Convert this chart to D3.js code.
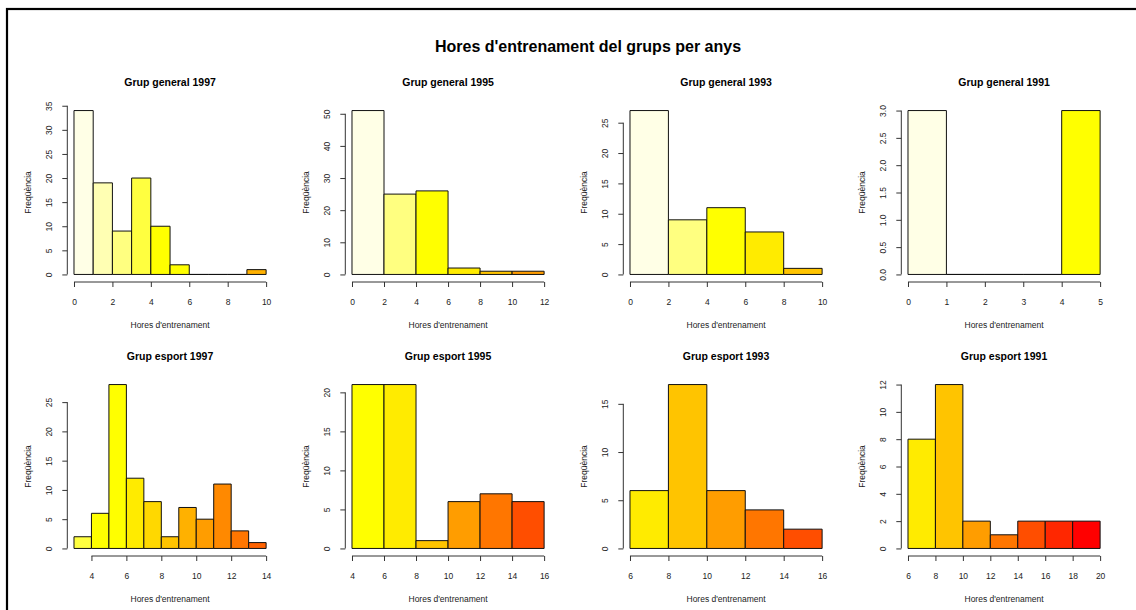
<!DOCTYPE html>
<html>
<head>
<meta charset="utf-8">
<script src="https://cdn.jsdelivr.net/npm/d3@7"></script>
<style>
  body { margin: 0; background: #fff; }
  svg { display: block; font-family: "Liberation Sans", Arial, sans-serif; }
  .tick text { fill: #222; }
</style>
</head>
<body>
<div id="chart"></div>
<script>
// Panel data (R-style histograms)
const mainTitle = "Hores d'entrenament del grups per anys";
const panelTitles = [
  "Grup general 1997", "Grup general 1995", "Grup general 1993", "Grup general 1991",
  "Grup esport 1997", "Grup esport 1995", "Grup esport 1993", "Grup esport 1991"
];
const binStarts = [0, 0, 0, 0, 3, 4, 6, 6];
const binWidths = [1, 2, 2, 1, 1, 2, 2, 2];
const binCounts = [
  [34, 19, 9, 20, 10, 2, 0, 0, 0, 1],
  [51, 25, 26, 2, 1, 1],
  [27, 9, 11, 7, 1],
  [3, 0, 0, 0, 3],
  [2, 6, 28, 12, 8, 2, 7, 5, 11, 3, 1],
  [21, 21, 1, 6, 7, 6],
  [6, 17, 6, 4, 2],
  [8, 12, 2, 1, 2, 2, 2]
];
const xTickValues = [
  [0, 2, 4, 6, 8, 10],
  [0, 2, 4, 6, 8, 10, 12],
  [0, 2, 4, 6, 8, 10],
  [0, 1, 2, 3, 4, 5],
  [4, 6, 8, 10, 12, 14],
  [4, 6, 8, 10, 12, 14, 16],
  [6, 8, 10, 12, 14, 16],
  [6, 8, 10, 12, 14, 16, 18, 20]
];
const yTickValues = [
  [0, 5, 10, 15, 20, 25, 30, 35],
  [0, 10, 20, 30, 40, 50],
  [0, 5, 10, 15, 20, 25],
  [0, 0.5, 1, 1.5, 2, 2.5, 3],
  [0, 5, 10, 15, 20, 25],
  [0, 5, 10, 15, 20],
  [0, 5, 10, 15],
  [0, 2, 4, 6, 8, 10, 12]
];
const xLabel = "Hores d'entrenament";
const yLabel = "Freqüència";

// Layout
const W = 1136, H = 610;
const plotLeft0 = 66.3, colStep = 278, plotW = 207.5;
const plotTop0 = 104, rowStep = 274, plotH = 177;

// heat-like fill from the bin's lower bound: pale yellows up to 4, then yellow -> red
function heatColor(v) {
  if (v < 4) {
    const s = [0.1, 0.3, 0.5, 0.75][Math.max(0, Math.round(v))];
    return d3.rgb(255, 255, Math.round(255 * (1 - s))).formatHex();
  }
  const hue = v <= 5 ? 60 : Math.max(0, 60 * (18 - v) / 13);
  return d3.hsl(hue, 1, 0.5).formatHex();
}

const svg = d3.select("#chart").append("svg").attr("width", W).attr("height", H);

// Frame (only top and left edges visible in the crop)
svg.append("rect")
  .attr("x", 7).attr("y", 9).attr("width", W + 20).attr("height", H + 20)
  .attr("fill", "none").attr("stroke", "#000").attr("stroke-width", 2.2);

svg.append("text")
  .attr("x", 588).attr("y", 52)
  .attr("text-anchor", "middle")
  .style("font-size", "16px").style("font-weight", "bold")
  .text(mainTitle);

panelTitles.forEach((title, p) => {
  const col = p % 4, row = Math.floor(p / 4);
  const left = plotLeft0 + col * colStep;
  const top = plotTop0 + row * rowStep;
  const counts = binCounts[p];
  const x0 = binStarts[p], bw = binWidths[p];
  const x1 = x0 + bw * counts.length;
  const xPad = (x1 - x0) * 0.04;
  const yMax = d3.max(counts);

  const x = d3.scaleLinear().domain([x0 - xPad, x1 + xPad]).range([0, plotW]);
  const y = d3.scaleLinear().domain([-yMax * 0.04, yMax * 1.04]).range([plotH, 0]);

  const g = svg.append("g").attr("transform", `translate(${left},${top})`);

  // title
  g.append("text")
    .attr("x", plotW / 2).attr("y", -18)
    .attr("text-anchor", "middle")
    .style("font-size", "10.5px").style("font-weight", "bold")
    .text(title);

  // bars (paths so that empty bins still show as a line on the baseline)
  g.selectAll(".bar")
    .data(counts.map((c, k) => ({ lo: x0 + k * bw, hi: x0 + (k + 1) * bw, c })))
    .enter()
    .append("path")
    .attr("class", "bar")
    .attr("d", (d) => `M${x(d.lo)},${y(0)}H${x(d.hi)}V${y(d.c)}H${x(d.lo)}Z`)
    .attr("fill", (d) => heatColor(d.lo))
    .attr("stroke", "#111")
    .attr("stroke-width", 1);

  // x axis
  const xt = xTickValues[p];
  const xAxis = g.append("g")
    .attr("transform", `translate(0,${plotH + 1})`)
    .call(d3.axisBottom(x).tickValues(xt).tickSize(5).tickPadding(12).tickSizeOuter(0).tickFormat(d3.format("")));
  xAxis.select(".domain").remove();
  xAxis.append("line")
    .attr("x1", x(xt[0])).attr("x2", x(xt[xt.length - 1]))
    .attr("stroke", "#333");
  xAxis.selectAll(".tick line").attr("stroke", "#333");
  xAxis.selectAll(".tick text").style("font-size", "8.5px").style("font-family", null);

  // y axis
  const yt = yTickValues[p];
  const yFmt = yt.some((v) => v % 1 !== 0) ? d3.format(".1f") : d3.format("");
  const yAxis = g.append("g")
    .attr("transform", "translate(1,0)")
    .call(d3.axisLeft(y).tickValues(yt).tickSize(5).tickSizeOuter(0).tickFormat(yFmt));
  yAxis.select(".domain").remove();
  yAxis.append("line")
    .attr("y1", y(yt[0])).attr("y2", y(yt[yt.length - 1]))
    .attr("stroke", "#333");
  yAxis.selectAll(".tick line").attr("stroke", "#333");
  yAxis.selectAll(".tick text")
    .attr("x", 0).attr("dy", 0)
    .attr("text-anchor", "middle")
    .attr("transform", "translate(-15,0) rotate(-90)")
    .style("font-size", "8.5px").style("font-family", null);

  // axis labels
  g.append("text")
    .attr("x", plotW / 2).attr("y", plotH + 47)
    .attr("text-anchor", "middle")
    .style("font-size", "8.5px").style("fill", "#222")
    .text(xLabel);

  g.append("text")
    .attr("transform", `translate(-35,${plotH / 2}) rotate(-90)`)
    .attr("text-anchor", "middle")
    .style("font-size", "8.5px").style("fill", "#222")
    .text(yLabel);
});
</script>
</body>
</html>
